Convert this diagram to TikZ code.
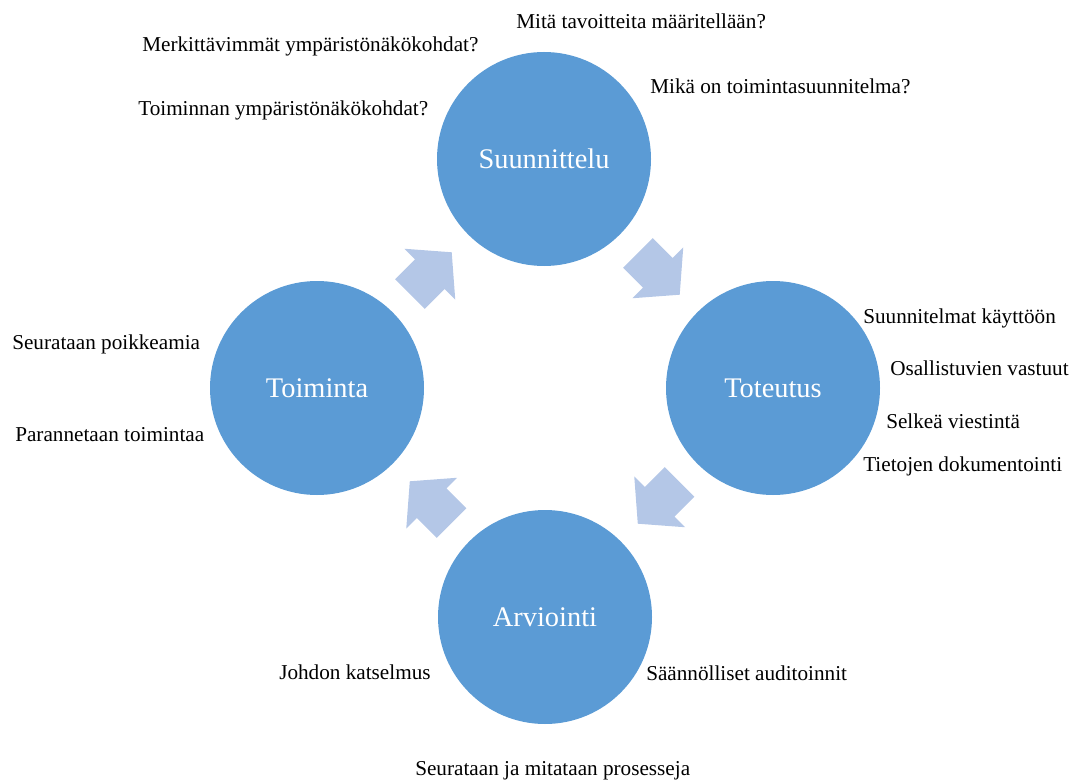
\documentclass[tikz,border=0pt]{standalone}
\usepackage{fontspec}
\setmainfont{Liberation Serif}
\usetikzlibrary{calc}
\definecolor{phasefill}{HTML}{5B9BD5}
\definecolor{flowfill}{HTML}{B4C7E7}
\tikzset{
  phase/.style={circle, fill=phasefill, draw=none, minimum size=160.5pt,
    inner sep=0pt, text=white, font=\fontsize{21.3}{25}\selectfont},
  note/.style={anchor=mid west, inner sep=0pt, font=\fontsize{15.9}{19}\selectfont},
  cyclearrow/.pic={
    \fill[flowfill] (-29,-21) -- (-1,-21) -- (-1,-36) -- (30,0)
      -- (-1,36) -- (-1,21) -- (-29,21) -- cycle;
  }
}
\begin{document}
\begin{tikzpicture}[x=0.75pt, y=-0.75pt]
  \useasboundingbox (0,0) rectangle (1075,781);

  % the four phases of the cycle
  \node[phase] (plan)  at (544,159) {Suunnittelu};
  \node[phase] (do)    at (773,388) {Toteutus};
  \node[phase] (check) at (545,617) {Arviointi};
  \node[phase] (act)   at (317,388) {Toiminta};

  % block arrows between consecutive phases
  \pic[rotate=-45]  at ($(plan)!0.5!(do)$)    {cyclearrow};
  \pic[rotate=-135] at ($(do)!0.5!(check)$)   {cyclearrow};
  \pic[rotate=135]  at ($(check)!0.5!(act)$)  {cyclearrow};
  \pic[rotate=45]   at ($(act)!0.5!(plan)$)   {cyclearrow};

  % questions and tasks around each phase
  \node[note] (n1)  at (516,25)  {Mitä tavoitteita määritellään?};
  \node[note] (n2)  at (142,48)  {Merkittävimmät ympäristönäkökohdat?};
  \node[note] (n3)  at (650,90)  {Mikä on toimintasuunnitelma?};
  \node[note] (n4)  at (138,112) {Toiminnan ympäristönäkökohdat?};
  \node[note] (n5)  at (863,320) {Suunnitelmat käyttöön};
  \node[note] (n6)  at (890,372) {Osallistuvien vastuut};
  \node[note] (n7)  at (886,425) {Selkeä viestintä};
  \node[note] (n8)  at (863,468) {Tietojen dokumentointi};
  \node[note] (n9)  at (12,346)  {Seurataan poikkeamia};
  \node[note] (n10) at (15,438)  {Parannetaan toimintaa};
  \node[note] (n11) at (279,676) {Johdon katselmus};
  \node[note] (n12) at (646,677) {Säännölliset auditoinnit};
  \node[note] (n13) at (415,772) {Seurataan ja mitataan prosesseja};
\end{tikzpicture}
\end{document}
